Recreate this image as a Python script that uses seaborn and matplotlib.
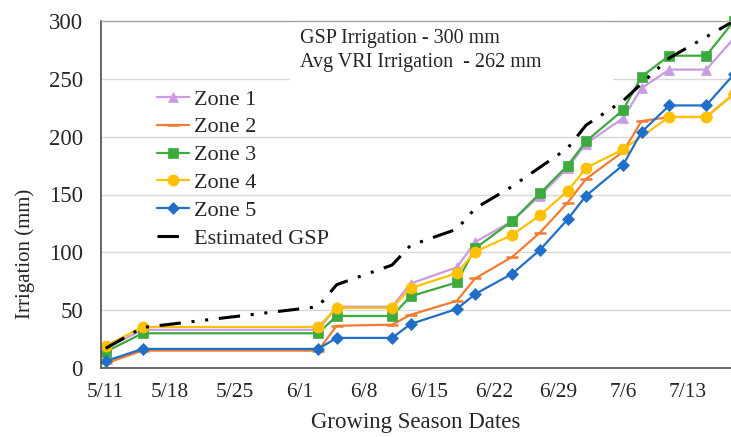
import matplotlib
matplotlib.use("Agg")
import matplotlib.pyplot as plt
import seaborn as sns
import pandas as pd

# ---- data (days since 5/11) ----
dates = [0, 4, 23, 25, 31, 33, 38, 40, 44, 47, 50, 52, 56, 58, 61, 65, 68]
zone1 = [17, 33, 33, 53, 53, 73, 87, 109, 127, 149, 173, 194, 216, 242, 258, 258, 285]
zone2 = [4, 15, 15, 36.5, 37.5, 46, 58, 77.5, 96, 117, 143, 163.5, 187, 213.5, 217, 217, 237]
zone3 = [14, 30, 30, 45, 45, 62, 74, 103.5, 127, 151, 175, 196, 223, 252, 270, 270, 300]
dates4 = [0, 4, 23, 25, 31, 33, 38, 40, 44, 47, 50, 52, 56, 61, 65, 68]
zone4 = [19, 35.5, 35.5, 52, 52, 69, 82, 100.5, 115, 132, 153, 173, 189, 217, 217, 237]
zone5 = [6, 16.5, 16.5, 26, 26, 38, 51, 64, 81.5, 102, 128.5, 149, 175.5, 204, 227, 227, 254]
gsp_dates = [0, 4, 23, 25, 31, 33, 38, 40, 44, 50, 52, 56, 61, 68]
gsp = [17, 35, 53, 72, 89, 106, 120, 138, 157, 190, 210, 231, 268, 300]

tick_days = [0, 7, 14, 21, 28, 35, 42, 49, 56, 63]
tick_labels = ["5/11", "5/18", "5/25", "6/1", "6/8", "6/15", "6/22", "6/29", "7/6", "7/13"]
series_names = ["Zone 1", "Zone 2", "Zone 3", "Zone 4", "Zone 5", "Estimated GSP"]
note_lines = ["GSP Irrigation - 300 mm", "Avg VRI Irrigation  - 262 mm"]

sns.set_style("white")
plt.rcParams["font.family"] = ["Liberation Serif", "DejaVu Serif"]

fig = plt.figure(figsize=(7.31, 4.37), dpi=100)
ax = fig.add_axes([101 / 731, 1 - 368 / 437, 630 / 731, 347 / 437])

styles = [
    (dates, zone1, "#C99BE3", "^", 7.5),
    (dates, zone2, "#F47B30", "_", 8),
    (dates, zone3, "#3DAA3D", "s", 7.5),
    (dates4, zone4, "#FFC000", "o", 8),
    (dates, zone5, "#1F6FC8", "D", 6),
]
for (x, y, c, m, ms), name in zip(styles, series_names[:5]):
    sns.lineplot(x=x, y=y, ax=ax, color=c, marker=m, markersize=ms,
                 markeredgecolor=c, markeredgewidth=1.8 if m == "_" else 0.5,
                 linewidth=1.6, label=name, clip_on=False, sort=False,
                 errorbar=None)

sns.lineplot(x=gsp_dates, y=gsp, ax=ax, color="black", linewidth=2.2,
             label=series_names[5], clip_on=False, sort=False, errorbar=None)
gline = ax.lines[-1]
gline.set_dashes((7, 3.5, 1, 3.5, 1, 3.5))
gline.set_dash_capstyle("butt")

ax.set_xlim(-0.5, -0.5 + 630 / 9.24)
ax.set_ylim(0, 300)
ax.set_yticks(range(0, 301, 50))
ax.set_xticks(tick_days)
ax.set_xticklabels(tick_labels)
ax.set_xticks([d - 0.5 for d in tick_days], minor=True)
ax.tick_params(axis="x", which="major", length=0, pad=11, labelsize=15.5)
ax.tick_params(axis="x", which="minor", length=6, direction="in",
               color="#595959", width=1)
ax.tick_params(axis="y", length=0, pad=13, labelsize=16.5)

ax.set_axisbelow(True)
ax.yaxis.grid(True, color="#D9D9D9", linewidth=1)
ax.xaxis.grid(False)
for side in ["left", "bottom"]:
    ax.spines[side].set_color("#595959")
    ax.spines[side].set_linewidth(1.3)
ax.spines["top"].set_color("#A6A6A6")
ax.spines["top"].set_linewidth(1)
ax.spines["right"].set_visible(False)

ax.set_xlabel("Growing Season Dates", fontsize=16.5, labelpad=7)
ax.set_ylabel("Irrigation (mm)", fontsize=15)
ax.yaxis.set_label_coords(-66 / 630, 114 / 347)

# white box behind note
ax.add_patch(plt.Rectangle((189 / 630, 1 - 69 / 347), 323 / 630, 68 / 347,
                           transform=ax.transAxes, facecolor="white",
                           edgecolor="none", zorder=1))
ax.text(199 / 630, 1 - 18 / 347, note_lines[0], transform=ax.transAxes,
        fontsize=14.5, va="center", ha="left", zorder=5)
ax.text(199 / 630, 1 - 42 / 347, note_lines[1], transform=ax.transAxes,
        fontsize=14.5, va="center", ha="left", zorder=5)

leg = ax.legend(loc="upper left", bbox_to_anchor=(56 / 630, 1 - 68 / 347),
                frameon=False, fontsize=16, handlelength=1.45,
                handletextpad=0.22, labelspacing=0.33, borderpad=0,
                borderaxespad=0)

fig.savefig("out.png", dpi=100)
